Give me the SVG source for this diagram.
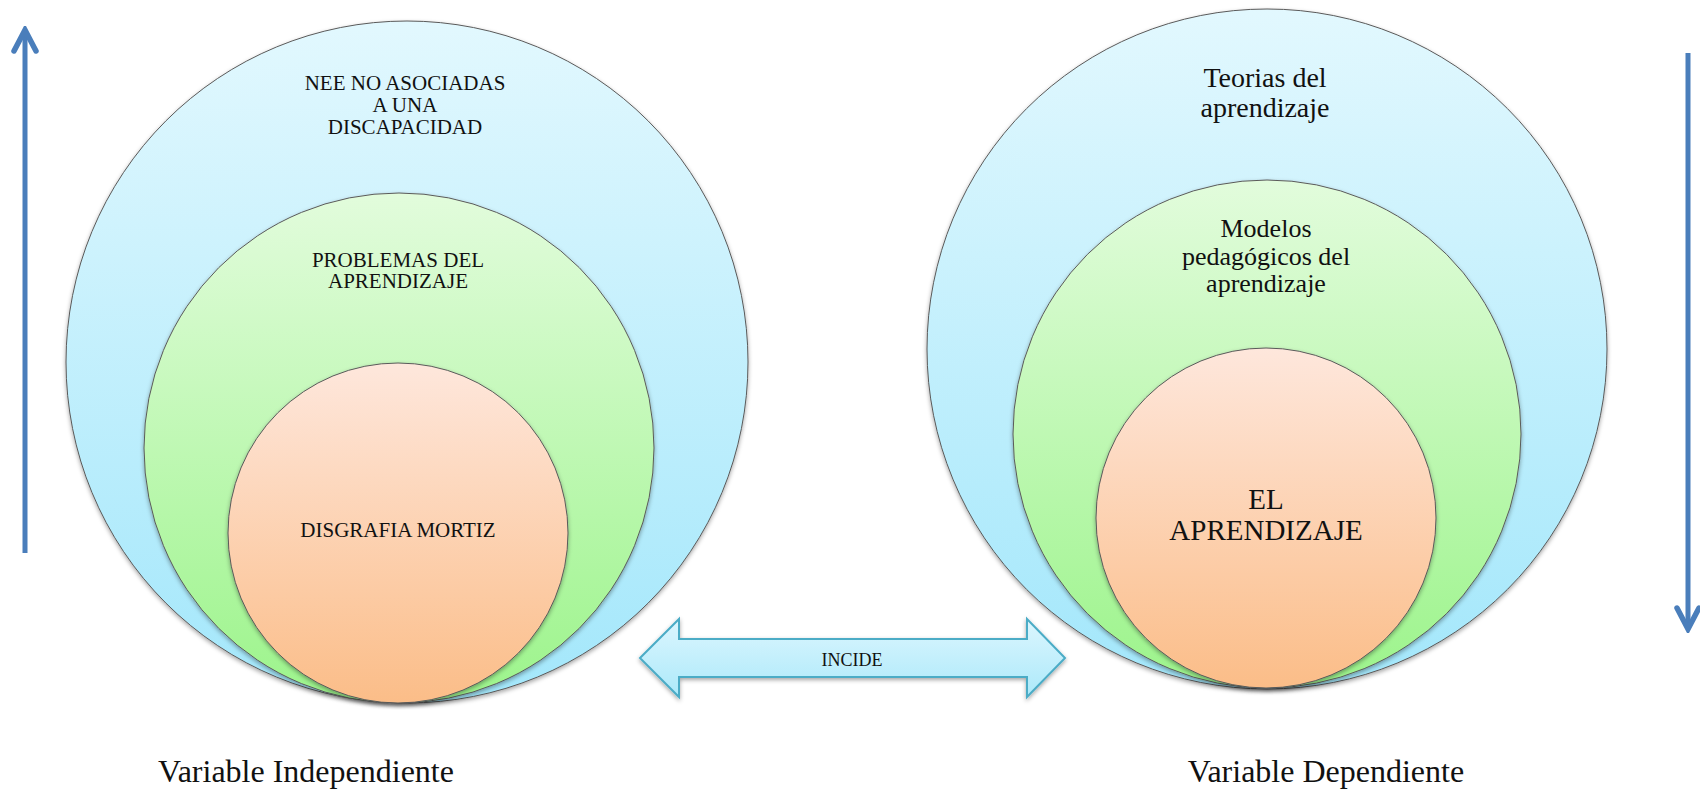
<svg xmlns="http://www.w3.org/2000/svg" width="1700" height="792" viewBox="0 0 1700 792">
  <style>
    text { font-family: "Liberation Serif", "Times New Roman", serif; fill: #111; text-anchor: middle; }
    .ring { stroke: #5a5a5a; stroke-width: 1; filter: url(#shadow); }
    .blue { fill: url(#gBlue); }
    .green { fill: url(#gGreen); }
    .orange { fill: url(#gOrange); }
    .vline { stroke: #4a7ebb; stroke-width: 5; fill: none; }
    .t21 { font-size: 21px; }
    .t26 { font-size: 26px; }
    .t28 { font-size: 28px; }
    .t29 { font-size: 29px; }
    .t32 { font-size: 32px; }
  </style>
  <defs>
    <linearGradient id="gBlue" x1="0" y1="0" x2="0" y2="1">
      <stop offset="0" stop-color="#e2f8fe"/>
      <stop offset="1" stop-color="#a3e7fb"/>
    </linearGradient>
    <linearGradient id="gGreen" x1="0" y1="0" x2="0" y2="1">
      <stop offset="0" stop-color="#e2fcdc"/>
      <stop offset="1" stop-color="#9cf48b"/>
    </linearGradient>
    <linearGradient id="gOrange" x1="0" y1="0" x2="0" y2="1">
      <stop offset="0" stop-color="#fee7dc"/>
      <stop offset="1" stop-color="#fbbd88"/>
    </linearGradient>
    <linearGradient id="gArrow" x1="0" y1="0" x2="0" y2="1">
      <stop offset="0" stop-color="#dcf6fe"/>
      <stop offset="1" stop-color="#ace9fa"/>
    </linearGradient>
    <filter id="shadow" x="-10%" y="-10%" width="120%" height="125%">
      <feDropShadow dx="0" dy="2" stdDeviation="2" flood-color="#000" flood-opacity="0.35"/>
    </filter>
    <marker id="chev" viewBox="-26 -15 30 30" refX="0" refY="0" markerWidth="30" markerHeight="30" markerUnits="userSpaceOnUse" orient="auto">
      <path d="M-21,-11 L0,0 L-21,11" fill="none" stroke="#4a7ebb" stroke-width="5.5" stroke-linecap="round" stroke-linejoin="miter"/>
    </marker>
  </defs>

  <g id="left-outer">
    <circle class="ring blue" cx="407" cy="362" r="341"/>
    <text class="t21" x="405" y="90">NEE NO ASOCIADAS</text>
    <text class="t21" x="405" y="112">A UNA</text>
    <text class="t21" x="405" y="134">DISCAPACIDAD</text>
  </g>
  <g id="left-middle">
    <circle class="ring green" cx="399" cy="448" r="255"/>
    <text class="t21" x="398" y="267">PROBLEMAS DEL</text>
    <text class="t21" x="398" y="288">APRENDIZAJE</text>
  </g>
  <g id="left-inner">
    <circle class="ring orange" cx="398" cy="533" r="170"/>
    <text class="t21" x="398" y="537">DISGRAFIA MORTIZ</text>
  </g>

  <g id="right-outer">
    <circle class="ring blue" cx="1267" cy="349" r="340"/>
    <text class="t28" x="1265" y="87">Teorias del</text>
    <text class="t28" x="1265" y="117">aprendizaje</text>
  </g>
  <g id="right-middle">
    <circle class="ring green" cx="1267" cy="434" r="254"/>
    <text class="t26" x="1266" y="237">Modelos</text>
    <text class="t26" x="1266" y="265">pedagógicos del</text>
    <text class="t26" x="1266" y="292">aprendizaje</text>
  </g>
  <g id="right-inner">
    <circle class="ring orange" cx="1266" cy="518" r="170"/>
    <text class="t29" x="1266" y="509">EL</text>
    <text class="t29" x="1266" y="540">APRENDIZAJE</text>
  </g>

  <g id="incide">
    <path d="M640,658 L679,619 L679,639 L1027,639 L1027,619 L1065,658 L1027,697 L1027,677 L679,677 L679,697 Z" fill="url(#gArrow)" stroke="#4bacc6" stroke-width="2" stroke-linejoin="miter" filter="url(#shadow)"/>
    <text x="852" y="666" style="font-size:18px">INCIDE</text>
  </g>

  <g id="connectors">
    <line class="vline" x1="25" y1="553" x2="25" y2="30" marker-end="url(#chev)"/>
    <line class="vline" x1="1688" y1="53" x2="1688" y2="629" marker-end="url(#chev)"/>
  </g>

  <g id="labels">
    <text class="t32" x="306" y="782">Variable Independiente</text>
    <text class="t32" x="1326" y="782">Variable Dependiente</text>
  </g>
</svg>
